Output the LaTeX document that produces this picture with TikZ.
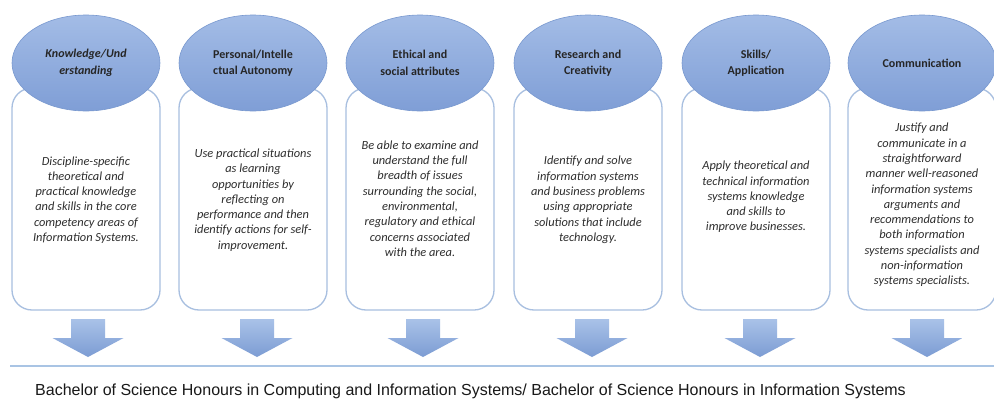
\documentclass[tikz,border=0pt]{standalone}
\usepackage{fontspec}
\setmainfont{Carlito}
\newfontfamily\arialf{Liberation Sans}
\usetikzlibrary{shapes.geometric}
\definecolor{ellTop}{HTML}{A3BCE6}
\definecolor{ellBot}{HTML}{7F9ED6}
\definecolor{ellLine}{HTML}{7898CF}
\definecolor{boxLine}{HTML}{A8BFE0}
\definecolor{arrTop}{HTML}{A9C2E8}
\definecolor{arrBot}{HTML}{7C9CD3}
\definecolor{baseLine}{HTML}{A9C4E4}
\definecolor{txtGray}{HTML}{2E2E2E}
\tikzset{
  boxst/.style={draw=boxLine, line width=1.3pt, fill=white, rounded corners=20pt,
    minimum width=148pt, minimum height=222pt, inner sep=0pt},
  ellst/.style={ellipse, draw=ellLine, line width=0.6pt, top color=ellTop, bottom color=ellBot,
    minimum width=148pt, minimum height=96pt, inner sep=0pt, align=center,
    font=\bfseries\fontsize{12}{16.5}\selectfont, text=black!85},
  txtst/.style={align=center, inner sep=0pt, text=txtGray,
    font=\itshape\fontsize{12.4}{15.3}\selectfont},
  arrst/.style={top color=arrTop, bottom color=arrBot, draw=none}
}
\begin{document}
\begin{tikzpicture}[x=1pt,y=-1pt]
\useasboundingbox (0,0) rectangle (994,407);
\fill[white] (0,0) rectangle (994,407);

% boxes
\node[boxst] (b1) at (86,199) {};
\node[boxst] (b2) at (253,199) {};
\node[boxst] (b3) at (420,199) {};
\node[boxst] (b4) at (588,199) {};
\node[boxst] (b5) at (756,199) {};
\node[boxst] (b6) at (922,199) {};

% ellipses
\node[ellst] (e1) at (86,63) {\itshape Knowledge/Und\\\itshape erstanding};
\node[ellst] (e2) at (253,63) {Personal/Intelle\\ctual Autonomy};
\node[ellst] (e3) at (420,63) {Ethical and\\social attributes};
\node[ellst] (e4) at (588,63) {Research and\\Creativity};
\node[ellst] (e5) at (756,63) {Skills/\\Application};
\node[ellst] (e6) at (922,63) {Communication};

% box texts
\node[txtst] (t1) at (86,200) {Discipline-specific\\theoretical and\\practical knowledge\\and skills in the core\\competency areas of\\Information Systems.};
\node[txtst] (t2) at (253,200) {Use practical situations\\as learning\\opportunities by\\reflecting on\\performance and then\\identify actions for self-\\improvement.};
\node[txtst] (t3) at (420,198.5) {Be able to examine and\\understand the full\\breadth of issues\\surrounding the social,\\environmental,\\regulatory and ethical\\concerns associated\\with the area.};
\node[txtst] (t4) at (588,200) {Identify and solve\\information systems\\and business problems\\using appropriate\\solutions that include\\technology.};
\node[txtst] (t5) at (756,197) {Apply theoretical and\\technical information\\systems knowledge\\and skills to\\improve businesses.};
\node[txtst] (t6) at (922,205) {Justify and\\communicate in a\\straightforward\\manner well-reasoned\\information systems\\arguments and\\recommendations to\\both information\\systems specialists and\\non-information\\systems specialists.};

% arrows
\foreach \x in {88,257,423,592,760,927}{
  \shade[arrst] (\x-17,319) -- (\x+17,319) -- (\x+17,338) -- (\x+35.5,338) -- (\x,357) -- (\x-35.5,338) -- (\x-17,338) -- cycle;
}

% base line
\coordinate (l1) at (10,366);
\coordinate (l2) at (994,366);
\draw[baseLine, line width=1.8pt] (l1) -- (l2);

\node[anchor=base west, inner sep=0pt, font=\arialf\fontsize{16}{18}\selectfont, text=black!90] (deg) at (35,395)
  {Bachelor of Science Honours in Computing and Information Systems/ Bachelor of Science Honours in Information Systems};
\end{tikzpicture}
\end{document}
